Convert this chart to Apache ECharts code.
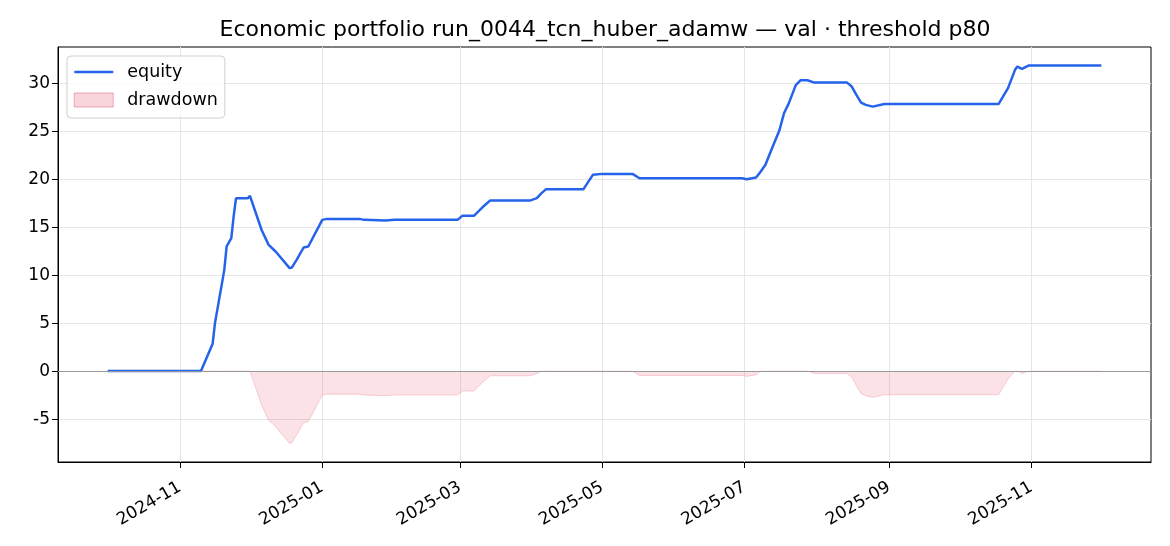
<!DOCTYPE html>
<html>
<head>
<meta charset="utf-8">
<script src="https://cdn.jsdelivr.net/npm/echarts@6/dist/echarts.min.js"></script>
<style>
  html, body { margin: 0; padding: 0; background: #fff; }
  #chart { width: 1170px; height: 546px; }
</style>
</head>
<body>
<div id="chart"></div>
<script>
// ---- data ----
const dates = [
  '2024-10-01','2024-11-10','2024-11-15','2024-11-16','2024-11-20','2024-11-21','2024-11-23','2024-11-24',
  '2024-11-25','2024-11-30','2024-12-01','2024-12-06','2024-12-09','2024-12-12','2024-12-18','2024-12-19',
  '2024-12-21','2024-12-24','2024-12-26','2025-01-01','2025-01-03','2025-01-17','2025-01-19','2025-01-28',
  '2025-02-01','2025-02-28','2025-03-02','2025-03-07','2025-03-11','2025-03-14','2025-03-31','2025-04-03',
  '2025-04-05','2025-04-07','2025-04-23','2025-04-27','2025-05-01','2025-05-14','2025-05-17','2025-06-30',
  '2025-07-02','2025-07-06','2025-07-08','2025-07-10','2025-07-13','2025-07-16','2025-07-18','2025-07-20',
  '2025-07-23','2025-07-25','2025-07-28','2025-07-31','2025-08-14','2025-08-16','2025-08-18','2025-08-20',
  '2025-08-22','2025-08-25','2025-08-30','2025-10-18','2025-10-22','2025-10-25','2025-10-26','2025-10-28',
  '2025-10-31','2025-12-01'
];
const equity = [
  0.00, 0.00, 2.84, 5.00, 10.55, 13.00, 13.85, 16.10,
  18.00, 18.00, 18.26, 14.70, 13.15, 12.46, 10.73, 10.80,
  11.60, 12.88, 12.98, 15.76, 15.86, 15.86, 15.76, 15.69,
  15.76, 15.76, 16.18, 16.18, 17.15, 17.77, 17.77, 18.02,
  18.54, 18.96, 18.96, 20.45, 20.55, 20.55, 20.10, 20.10,
  20.00, 20.17, 20.80, 21.50, 23.33, 25.10, 26.90, 27.90,
  29.80, 30.30, 30.30, 30.06, 30.06, 29.65, 28.78, 27.98,
  27.74, 27.56, 27.84, 27.84, 29.48, 31.39, 31.73, 31.49,
  31.85, 31.85
];
const drawdown = [
  0.00, 0.00, 0.00, 0.00, 0.00, 0.00, 0.00, 0.00,
  0.00, 0.00, 0.00, -3.56, -5.11, -5.80, -7.53, -7.46,
  -6.66, -5.38, -5.28, -2.50, -2.40, -2.40, -2.50, -2.57,
  -2.50, -2.50, -2.08, -2.08, -1.11, -0.49, -0.49, -0.24,
  0.00, 0.00, 0.00, 0.00, 0.00, 0.00, -0.45, -0.45,
  -0.55, -0.38, 0.00, 0.00, 0.00, 0.00, 0.00, 0.00,
  0.00, 0.00, 0.00, -0.24, -0.24, -0.65, -1.52, -2.32,
  -2.56, -2.74, -2.46, -2.46, -0.82, 0.00, 0.00, -0.24,
  0.00, 0.00
];
const xTickDates = ['2024-11-01','2025-01-01','2025-03-01','2025-05-01','2025-07-01','2025-09-01','2025-11-01'];
const yTicks = [-5, 0, 5, 10, 15, 20, 25, 30];
const titleText = 'Economic portfolio run_0044_tcn_huber_adamw — val · threshold p80';

// ---- build ----
function ts(s) { const p = s.split('-').map(Number); return Date.UTC(p[0], p[1] - 1, p[2]); }
const x0 = ts(dates[0]), x1 = ts(dates[dates.length - 1]);
const pad = (x1 - x0) * 0.05;
const eqData = dates.map((d, i) => [ts(d), equity[i]]);
const ddData = dates.map((d, i) => [ts(d), drawdown[i]]);
const xTicks = xTickDates.map(ts);

const font = 'DejaVu Sans';
const eqColor = '#2563eb';
const ddColor = 'rgba(220,20,60,0.18)';
const chart = echarts.init(document.getElementById('chart'), null, { renderer: 'canvas' });
chart.setOption({
  animation: false,
  backgroundColor: '#fff',
  title: {
    text: titleText,
    left: 600, top: 14, textAlign: 'center',
    textStyle: { fontFamily: font, fontSize: 22, fontWeight: 'normal', color: '#000' }
  },
  legend: {
    orient: 'vertical', left: 67, top: 56,
    itemWidth: 39, itemHeight: 14, itemGap: 10,
    padding: [7, 7, 9, 6],
    borderColor: '#d0d0d0', borderWidth: 1, borderRadius: 4,
    backgroundColor: 'rgba(255,255,255,0.8)',
    textStyle: { fontFamily: font, fontSize: 17.5, color: '#000', padding: [0, 0, 0, 9] },
    data: [
      { name: 'equity', itemStyle: { opacity: 0 }, lineStyle: { color: eqColor, width: 2.5 } },
      { name: 'drawdown', icon: 'rect',
        itemStyle: { color: ddColor, borderColor: 'rgba(220,20,60,0.32)', borderWidth: 1 } }
    ]
  },
  grid: { left: 58, right: 19, top: 47, bottom: 84, show: true, borderColor: '#000', borderWidth: 1, backgroundColor: 'transparent' },
  xAxis: {
    type: 'value', min: x0 - pad, max: x1 + pad,
    axisLine: { show: true, onZero: false, lineStyle: { color: '#000', width: 1 } },
    axisTick: { show: true, length: 6, lineStyle: { color: '#000' }, customValues: xTicks },
    axisLabel: {
      customValues: xTicks, rotate: 30, margin: 24, fontFamily: font, fontSize: 17, color: '#000',
      formatter: v => { const d = new Date(v); return d.getUTCFullYear() + '-' + String(d.getUTCMonth() + 1).padStart(2, '0'); }
    },
    splitLine: { show: true, lineStyle: { color: '#e6e6e6', width: 1 } }
  },
  yAxis: {
    type: 'value', min: -9.47, max: 33.77,
    axisLine: { show: true, onZero: false, lineStyle: { color: '#000', width: 1 } },
    axisTick: { show: true, length: 6, lineStyle: { color: '#000' }, customValues: yTicks },
    axisLabel: { customValues: yTicks, margin: 8, fontFamily: font, fontSize: 17, color: '#000' },
    splitLine: { show: true, lineStyle: { color: '#e6e6e6', width: 1 } }
  },
  series: [
    {
      name: 'drawdown', type: 'line', data: ddData, symbol: 'none', z: 2,
      lineStyle: { color: ddColor, width: 1 },
      itemStyle: { color: ddColor },
      areaStyle: { color: ddColor, origin: 0 },
      markLine: {
        silent: true, symbol: 'none', label: { show: false },
        lineStyle: { color: '#9a9a9a', width: 1.2, type: 'solid' },
        data: [{ yAxis: 0 }]
      }
    },
    {
      name: 'equity', type: 'line', data: eqData, symbol: 'none', z: 3,
      lineStyle: { color: eqColor, width: 2.5 },
      itemStyle: { color: eqColor }
    }
  ]
});
</script>
</body>
</html>
